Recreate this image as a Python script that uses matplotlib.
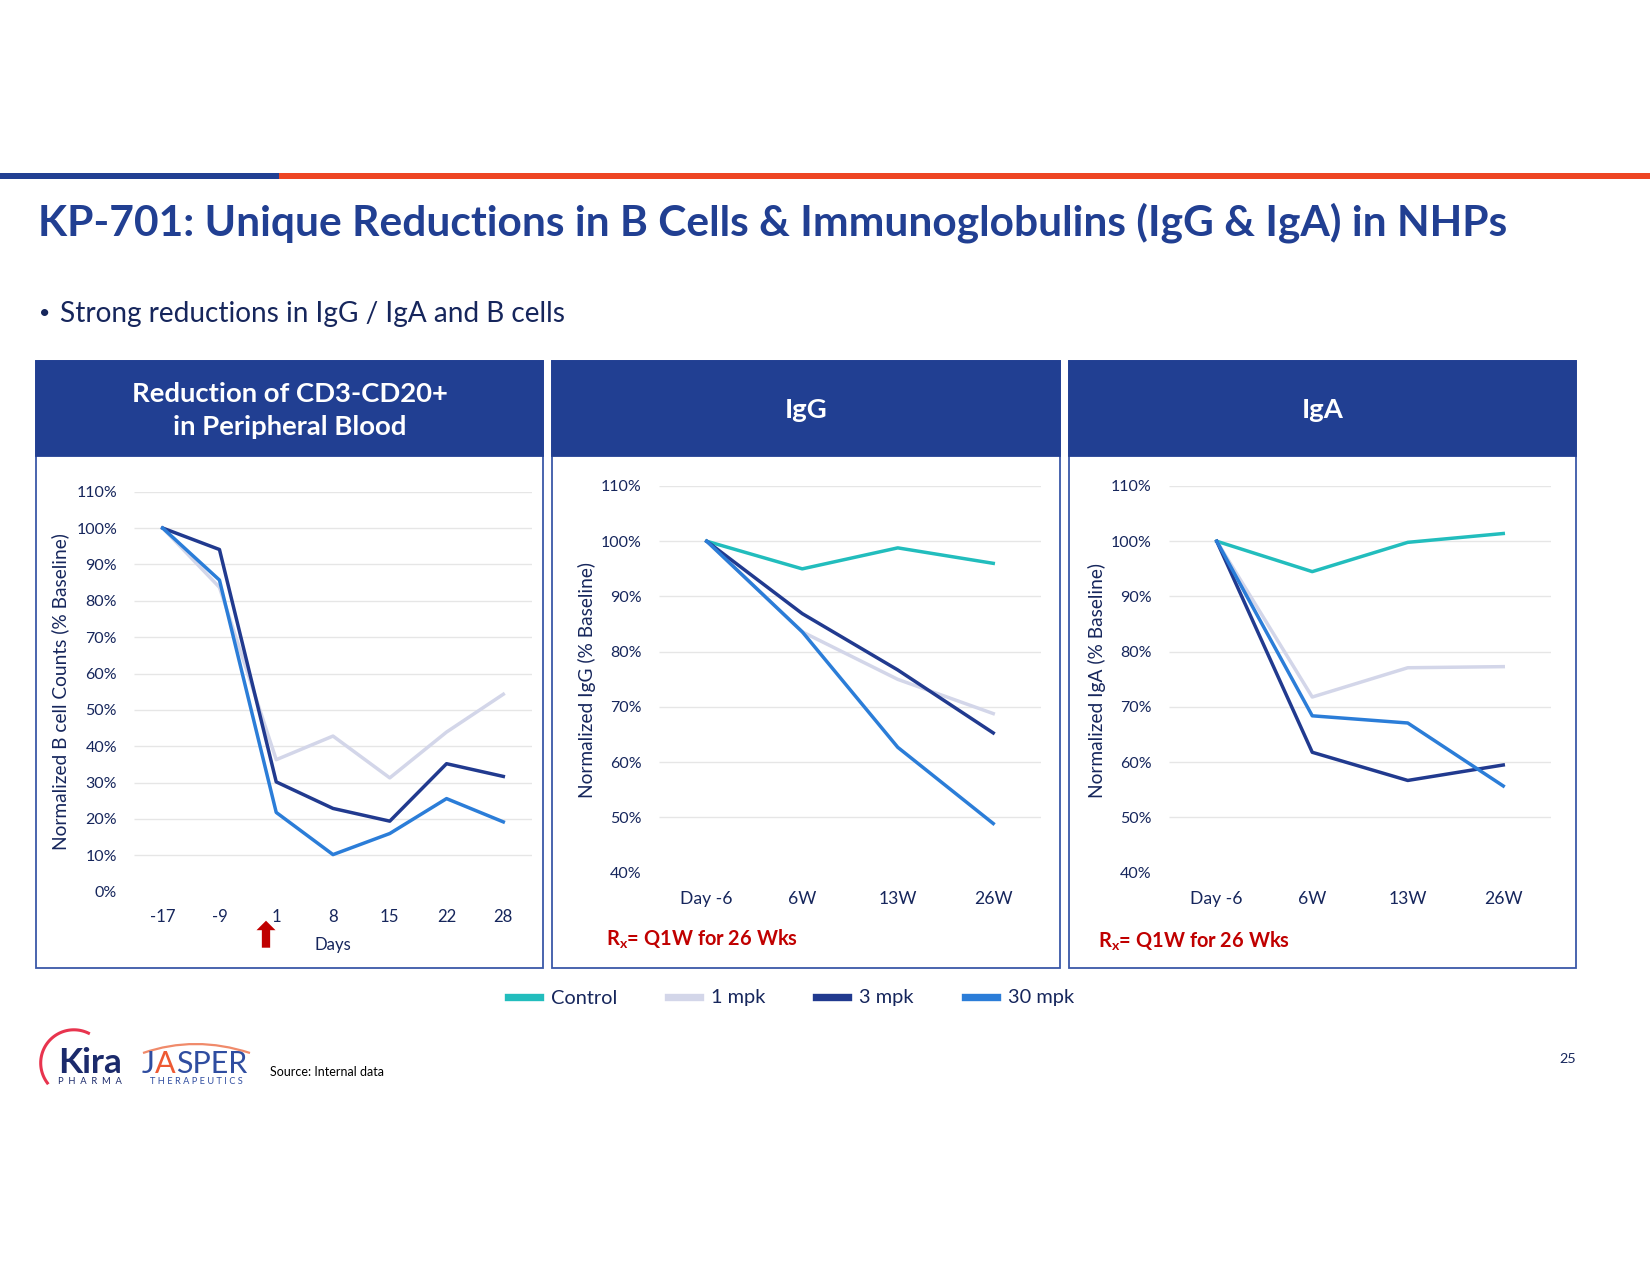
import numpy as np
import matplotlib
matplotlib.use('Agg')
import matplotlib.pyplot as plt
from matplotlib.patches import Rectangle, FancyArrow, PathPatch
from matplotlib.path import Path

# ---------------- data ----------------
bcell_days = ['-17', '-9', '1', '8', '15', '22', '28']
bcell_1mpk = [100, 83.7, 36.3, 42.8, 31.3, 43.9, 54.3]
bcell_3mpk = [100, 94.1, 30.2, 22.9, 19.4, 35.2, 31.7]
bcell_30mpk = [100, 85.7, 21.8, 10.2, 16.0, 25.6, 19.2]

ig_timepoints = ['Day -6', '6W', '13W', '26W']
igg_control = [100, 95.0, 98.8, 96.0]
igg_1mpk = [100, 83.6, 75.0, 68.8]
igg_3mpk = [100, 86.9, 76.7, 65.3]
igg_30mpk = [100, 83.6, 62.7, 48.9]

iga_control = [100, 94.5, 99.8, 101.4]
iga_1mpk = [100, 71.8, 77.1, 77.3]
iga_3mpk = [100, 61.8, 56.7, 59.5]
iga_30mpk = [100, 68.4, 67.1, 55.7]

series_names = ['Control', '1 mpk', '3 mpk', '30 mpk']
series_colors = ['#22BDBD', '#D3D6E9', '#213A8F', '#2B7DD8']

title_text = 'KP-701: Unique Reductions in B Cells & Immunoglobulins (IgG & IgA) in NHPs'
bullet_text = 'Strong reductions in IgG / IgA and B cells'
panel_titles = ['Reduction of CD3-CD20+\nin Peripheral Blood', 'IgG', 'IgA']
ylabels = ['Normalized B cell Counts (% Baseline)', 'Normalized IgG (% Baseline)',
           'Normalized IgA (% Baseline)']
rx_text = r'R$_{\mathbf{x}}$= Q1W for 26 Wks'

# ---------------- style ----------------
W, H = 1650, 1275
plt.rcParams['font.family'] = ['Lato', 'DejaVu Sans']
plt.rcParams['mathtext.fontset'] = 'custom'
plt.rcParams['mathtext.rm'] = 'Lato:bold'
plt.rcParams['mathtext.bf'] = 'Lato:bold'
NAVY = '#16265C'
TITLE_BLUE = '#213F92'
HEADER = '#213F92'
BORDER = '#3A58A8'
GRID = '#E6E6E6'
RED = '#C00000'
DY = 3  # vertical text offset (px)

fig = plt.figure(figsize=(W / 100, H / 100), dpi=100)
fig.patch.set_facecolor('white')
ov = fig.add_axes([0, 0, 1, 1], zorder=0)
ov.set_xlim(0, W)
ov.set_ylim(H, 0)
ov.axis('off')

fig.canvas.draw()
R = fig.canvas.get_renderer()


def fit(t, target, use_height=False):
    bb = t.get_window_extent(R)
    cur = bb.height if use_height else bb.width
    t.set_fontsize(t.get_fontsize() * target / cur)
    return t.get_fontsize()


def size_for(s, target, weight='normal'):
    t = ov.text(0, 0, s, fontsize=12, weight=weight)
    fs = fit(t, target)
    t.remove()
    return fs


def rect(x0, y0, x1, y1):
    return [x0 / W, 1 - y1 / H, (x1 - x0) / W, (y1 - y0) / H]


# ---------------- top bar / title ----------------
ov.add_patch(Rectangle((0, 173), 279, 6, color='#213F92', lw=0))
ov.add_patch(Rectangle((279, 173), W - 279, 6, color='#EE4523', lw=0))
t = ov.text(38, 220 + DY, title_text, fontsize=26, weight='bold', color=TITLE_BLUE,
            ha='left', va='center')
fit(t, 1467)
ov.text(39, 311 + DY, '\u2022', fontsize=14, color=NAVY, ha='left', va='center')
t = ov.text(60, 311 + DY, bullet_text, fontsize=17, color=NAVY, ha='left', va='center')
fit(t, 505)

# ---------------- panels ----------------
panels = [(36, 543), (552, 1060), (1069, 1576)]
ptop, phead, pbot = 361, 456, 968
hdr_fs = size_for('Reduction of CD3-CD20+', 315, weight='bold')
for (x0, x1), ttl in zip(panels, panel_titles):
    ov.add_patch(Rectangle((x0, ptop), x1 - x0, pbot - ptop, facecolor='white',
                           edgecolor=BORDER, lw=1.3))
    ov.add_patch(Rectangle((x0, ptop), x1 - x0, phead - ptop, facecolor=HEADER,
                           edgecolor=HEADER, lw=1.3))
    ov.text((x0 + x1) / 2, 407.5 + DY, ttl, fontsize=hdr_fs, weight='bold', color='white',
            ha='center', va='center', linespacing=1.42)

tick_fs = size_for('110%', 40.5)
xtick_fs = size_for('Day -6', 52)
ylab_fs = size_for(ylabels[0], 317)


def make_axes(box, cats, series, ylo, yhi, xpad):
    ax = fig.add_axes(rect(*box), zorder=3)
    ax.patch.set_alpha(0)
    x = np.arange(len(cats))
    ticks = np.arange(ylo, yhi + 1, 10)
    ax.hlines(ticks[1:], -0.5, len(cats) - 0.5, color=GRID, lw=1.0, zorder=0)
    lines = {}
    for name, vals, c in series:
        ln, = ax.plot(x, vals, color=c, lw=2.5, label=name, zorder=2)
        lines[name] = ln
    ax.set_xlim(-0.5, len(cats) - 0.5)
    ax.set_ylim(ylo, yhi)
    ax.set_yticks(ticks)
    ax.set_yticklabels([f'{v:.0f}%' for v in ticks])
    ax.set_xticks(x)
    ax.set_xticklabels(cats)
    for s in ax.spines.values():
        s.set_visible(False)
    ax.tick_params(axis='y', length=0, pad=12.4, labelsize=tick_fs, labelcolor=NAVY)
    ax.tick_params(axis='x', length=0, pad=xpad, labelsize=xtick_fs, labelcolor=NAVY)
    return ax, lines


c_ctrl, c_1, c_3, c_30 = series_colors
ax1, _ = make_axes((134.3, 491.7, 531.7, 891.7), bcell_days,
                   [('1 mpk', bcell_1mpk, c_1), ('3 mpk', bcell_3mpk, c_3),
                    ('30 mpk', bcell_30mpk, c_30)], 0, 110, 12.8)
ax1.tick_params(axis='x', labelsize=tick_fs * 1.05)
ax2, lines2 = make_axes((659, 486, 1041, 872.7), ig_timepoints,
                        [('Control', igg_control, c_ctrl), ('1 mpk', igg_1mpk, c_1),
                         ('3 mpk', igg_3mpk, c_3), ('30 mpk', igg_30mpk, c_30)],
                        40, 110, 13)
ax3, _ = make_axes((1169, 486, 1551, 872.7), ig_timepoints,
                   [('Control', iga_control, c_ctrl), ('1 mpk', iga_1mpk, c_1),
                    ('3 mpk', iga_3mpk, c_3), ('30 mpk', iga_30mpk, c_30)],
                   40, 110, 13)

# y labels
for (xc, yc), lab in zip([(60, 692), (587, 680), (1097, 681)], ylabels):
    ov.text(xc, yc, lab, rotation=90, fontsize=ylab_fs, color=NAVY,
            ha='center', va='center')

# Days label + dosing arrow
t = ov.text(333, 942 + DY, 'Days', fontsize=14, color=NAVY, ha='center', va='center')
fit(t, 37)
ov.add_patch(FancyArrow(266, 947.7, 0, -27, width=8.3, head_width=19,
                        head_length=9.5, length_includes_head=True,
                        color=RED, lw=0))

# Rx notes
for xs, ys in [(606, 936.5), (1098, 938)]:
    t = ov.text(xs, ys + DY, rx_text, fontsize=14, weight='bold', color=RED,
                ha='left', va='center')
    fit(t, 192)

# legend
leg_fs = size_for('Control', 66)
handles = [lines2[n] for n in series_names]
leg = fig.legend(handles, series_names, ncol=4, frameon=False, fontsize=leg_fs,
                 handlelength=1.6, handletextpad=0.55, columnspacing=2.55,
                 loc='center', bbox_to_anchor=(791 / W, 1 - (996.5 + 1.5) / H),
                 labelcolor=NAVY, borderpad=0)
for lh in leg.get_lines():
    lh.set_linewidth(5.3)

# ---------------- footer ----------------
th = np.linspace(np.deg2rad(143), np.deg2rad(296), 60)
ov.plot(73.9 + 33.2 * np.cos(th), 1063 + 33.2 * np.sin(th), color='#E8344E', lw=2.2)
t = ov.text(58, 1073, 'Kira', fontsize=26, weight='bold', color='#1B2A6B',
            ha='left', va='baseline')
fit(t, 64)
t = ov.text(58, 1083.5, 'P  H  A  R  M  A', fontsize=6, color='#1B2A6B',
            ha='left', va='baseline')
fit(t, 64)

# JASPER with orange A
jx = 142
parts = [('J', '#2F4DA0'), ('A', '#EE5A33'), ('SPER', '#2F4DA0')]
jfs = size_for('JASPER', 105)
for s, c in parts:
    t = ov.text(jx, 1073, s, fontsize=jfs, color=c, ha='left', va='baseline')
    jx += t.get_window_extent(R).width
t = ov.text(150, 1083.5, 'T H E R A P E U T I C S', fontsize=6, color='#2F4DA0',
            ha='left', va='baseline')
fit(t, 93)
arc = Path([(143, 1053), (195, 1035), (250, 1053)],
           [Path.MOVETO, Path.CURVE3, Path.CURVE3])
ov.add_patch(PathPatch(arc, facecolor='none', edgecolor='#F08A6A', lw=1.6))

t = ov.text(270, 1069 + DY, 'Source: Internal data', fontsize=8, color='black',
            ha='left', va='center')
fit(t, 115)
t = ov.text(1568, 1056 + DY, '25', fontsize=9.5, color=NAVY, ha='center', va='center')
fit(t, 16.7)

fig.savefig('out.png', dpi=100, facecolor='white')
